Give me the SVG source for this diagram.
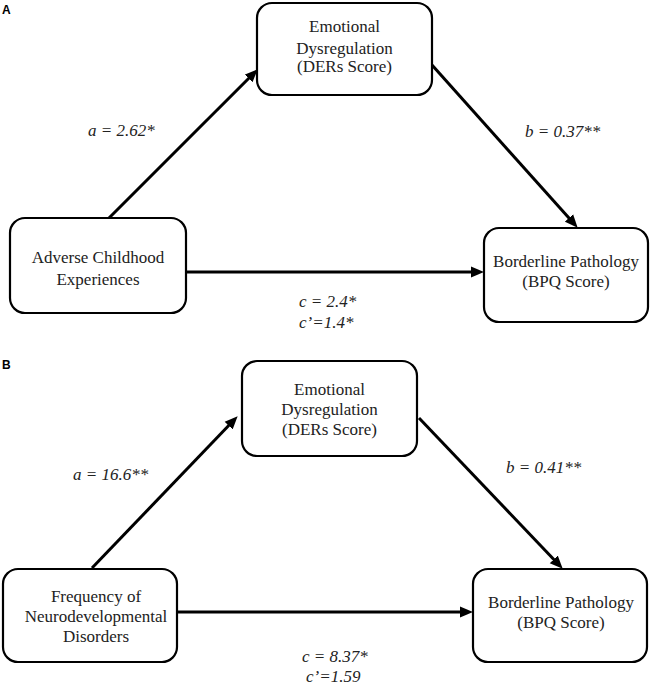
<svg xmlns="http://www.w3.org/2000/svg" width="662" height="688" viewBox="0 0 662 688">
<style>
.box{fill:#fff;stroke:#000;stroke-width:2.2}
.t{font-family:"Liberation Serif","Times New Roman",serif;font-size:17px;fill:#222;text-anchor:middle}
.lbl{font-family:"Liberation Serif","Times New Roman",serif;font-size:17px;font-style:italic;fill:#222}
.pl{font-family:"Liberation Sans",Arial,sans-serif;font-size:12px;font-weight:bold;fill:#000}
.c{fill:none;stroke:#000;stroke-width:3}
</style>
<defs>
<marker id="ah" markerUnits="userSpaceOnUse" markerWidth="13" markerHeight="12" refX="6" refY="6" orient="auto" viewBox="0 0 13 12">
<path d="M0,0.5 L13,6 L0,11.5 z" fill="#000"/>
</marker>
</defs>
<rect width="662" height="688" fill="#fff"/>
<text class="pl" x="2" y="14">A</text>
<text class="pl" x="2" y="369">B</text>
<g id="connectors">
<path class="c" d="M109,218 L252.8,74.2" marker-end="url(#ah)"/>
<path class="c" d="M432,65 L573,222.5" marker-end="url(#ah)"/>
<path class="c" d="M186,272 L477,272" marker-end="url(#ah)"/>
<path class="c" d="M92,568 L232.8,421.3" marker-end="url(#ah)"/>
<path class="c" d="M419,418 L557.9,563.7" marker-end="url(#ah)"/>
<path class="c" d="M177,612 L466,612" marker-end="url(#ah)"/>
</g>
<g id="A-mediator">
<rect class="box" x="257" y="3" width="175" height="92" rx="15"/>
<text class="t" x="344.5" y="32">Emotional</text>
<text class="t" x="344.5" y="54">Dysregulation</text>
<text class="t" x="344.5" y="72">(DERs Score)</text>
</g>
<g id="A-predictor">
<rect class="box" x="10" y="218" width="176" height="95" rx="15"/>
<text class="t" x="98" y="263">Adverse Childhood</text>
<text class="t" x="98" y="285">Experiences</text>
</g>
<g id="A-outcome">
<rect class="box" x="484" y="228" width="164" height="94" rx="15"/>
<text class="t" x="566" y="267">Borderline Pathology</text>
<text class="t" x="566" y="287">(BPQ Score)</text>
</g>
<g id="A-labels">
<text class="lbl" x="88" y="136">a = 2.62*</text>
<text class="lbl" x="525" y="137">b = 0.37**</text>
<text class="lbl" x="299" y="307">c = 2.4*</text>
<text class="lbl" x="299" y="328">c’=1.4*</text>
</g>
<g id="B-mediator">
<rect class="box" x="242" y="361" width="175" height="95" rx="15"/>
<text class="t" x="329.5" y="395">Emotional</text>
<text class="t" x="329.5" y="415">Dysregulation</text>
<text class="t" x="329.5" y="435">(DERs Score)</text>
</g>
<g id="B-predictor">
<rect class="box" x="3" y="569" width="174" height="93" rx="15"/>
<text class="t" x="96" y="602">Frequency of</text>
<text class="t" x="96" y="622">Neurodevelopmental</text>
<text class="t" x="96" y="642">Disorders</text>
</g>
<g id="B-outcome">
<rect class="box" x="473" y="569" width="174" height="93" rx="15"/>
<text class="t" x="561" y="608">Borderline Pathology</text>
<text class="t" x="561" y="628">(BPQ Score)</text>
</g>
<g id="B-labels">
<text class="lbl" x="73" y="480">a = 16.6**</text>
<text class="lbl" x="506" y="473">b = 0.41**</text>
<text class="lbl" x="302" y="662">c = 8.37*</text>
<text class="lbl" x="306" y="682">c’=1.59</text>
</g>
</svg>
